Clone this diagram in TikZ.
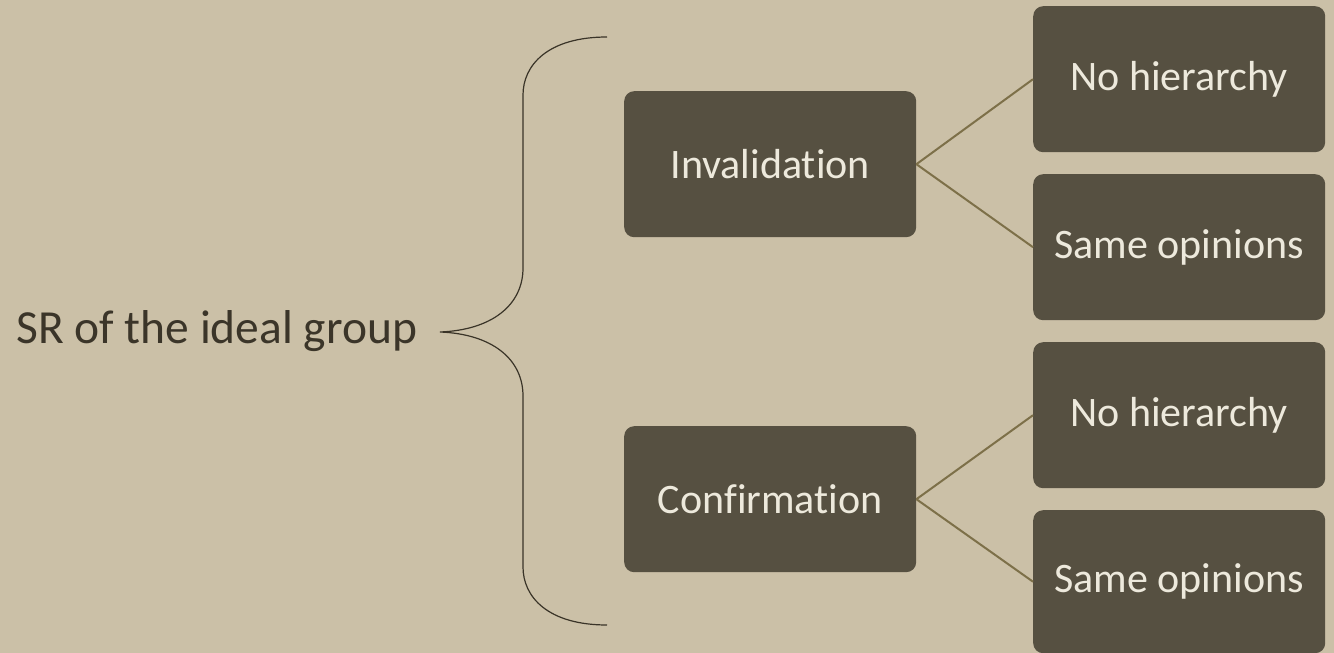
\documentclass[tikz,border=0pt]{standalone}
\usepackage{fontspec}
\setmainfont{Carlito}[Ligatures=NoCommon]
\definecolor{bg}{HTML}{CBC0A7}
\definecolor{boxfill}{HTML}{565041}
\definecolor{boxtext}{HTML}{EDE9DC}
\definecolor{conn}{HTML}{7D7049}
\definecolor{brace}{HTML}{3A3428}
\definecolor{dark}{HTML}{3B3529}
\tikzset{
  box/.style={fill=boxfill, rounded corners=10pt, minimum width=292pt, minimum height=146pt,
    anchor=north west, inner sep=0pt, text=boxtext, font=\fontsize{42}{48}\selectfont},
  link/.style={draw=conn, line width=2pt},
  bracestyle/.style={draw=brace, line width=1.2pt}
}
\begin{document}
\begin{tikzpicture}[x=1pt,y=-1pt]
\fill[bg] (0,0) rectangle (1334,653);
\useasboundingbox (0,0) rectangle (1334,653);
\node[text=dark, font=\fontsize{47.5}{54}\selectfont, anchor=west, inner sep=0pt] (sr) at (16,331) {SR of the ideal group};
\node[box] (inv) at (624,91) {Invalidation};
\node[box] (conf) at (624,426) {Confirmation};
\node[box] (nh1) at (1033,6) {No hierarchy};
\node[box] (so1) at (1033,174) {Same opinions};
\node[box] (nh2) at (1033,342) {No hierarchy};
\node[box, minimum height=143pt] (so2) at (1033,510) {Same opinions};
\draw[link] (inv.east) -- (nh1.west);
\draw[link] (inv.east) -- (so1.west);
\draw[link] (conf.east) -- (nh2.west);
\draw[link] (conf.east) -- (so2.west);
\coordinate (btop) at (607,37);
\coordinate (btip) at (440,332);
\coordinate (bbot) at (607,625);
\draw[bracestyle] (btop) .. controls (548,37) and (523,65) .. (523,95)
  -- (523,268) .. controls (523,305) and (492,330) .. (btip)
  .. controls (492,334) and (523,359) .. (523,396)
  -- (523,567) .. controls (523,597) and (548,625) .. (bbot);
\end{tikzpicture}
\end{document}
